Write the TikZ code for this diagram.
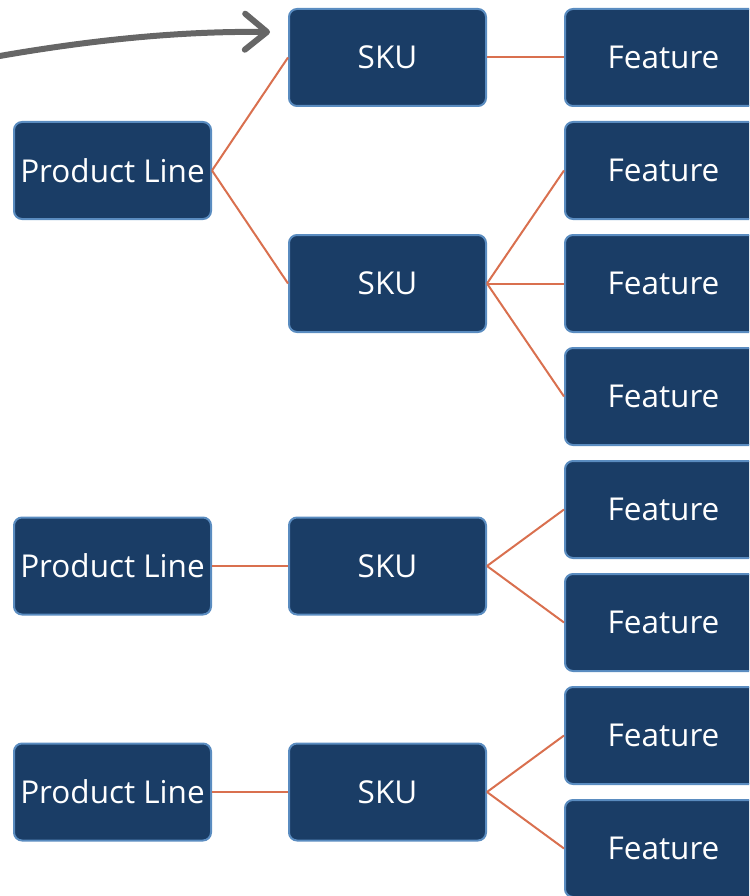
\documentclass[tikz,border=0pt]{standalone}
\usepackage{fontspec}
\setmainfont{Open Sans}
\usetikzlibrary{arrows.meta}
\definecolor{boxfill}{HTML}{1A3D66}
\definecolor{boxedge}{HTML}{5A8CC0}
\definecolor{linkcol}{HTML}{D9704F}
\definecolor{arrowgray}{HTML}{666666}
\tikzset{
  item/.style={draw=boxedge, line width=2pt, fill=boxfill, rounded corners=8pt,
    minimum width=197pt, minimum height=97pt, inner sep=0pt,
    text=white, font=\fontsize{31.5}{36}\selectfont},
  link/.style={draw=linkcol, line width=2pt},
  pointer/.style={draw=arrowgray, line width=6pt, line cap=round,
    -{Straight Barb[length=22pt,width=36pt,round]}}
}
\begin{document}
\begin{tikzpicture}[x=1pt, y=-1pt]
\useasboundingbox (0,0) rectangle (749,896);
\clip (0,0) rectangle (749,896);
% feature column
\foreach \i in {0,...,7} {
  \node[item] (f\i) at (663.5, 57.5+113*\i) {Feature};
}
% SKU column
\node[item] (s1) at (387.5, 57.5) {SKU};
\node[item] (s2) at (387.5, 283.5) {SKU};
\node[item] (s3) at (387.5, 566) {SKU};
\node[item] (s4) at (387.5, 792) {SKU};
% product lines
\node[item] (p1) at (112.5, 170.5) {Product Line};
\node[item] (p2) at (112.5, 566) {Product Line};
\node[item] (p3) at (112.5, 792) {Product Line};
% connectors
\draw[link] (p1.east) -- (s1.west);
\draw[link] (p1.east) -- (s2.west);
\draw[link] (p2.east) -- (s3.west);
\draw[link] (p3.east) -- (s4.west);
\draw[link] (s1.east) -- (f0.west);
\foreach \j in {1,2,3} \draw[link] (s2.east) -- (f\j.west);
\foreach \j in {4,5} \draw[link] (s3.east) -- (f\j.west);
\foreach \j in {6,7} \draw[link] (s4.east) -- (f\j.west);
% pointer towards the first SKU
\coordinate (from) at (-6, 57);
\coordinate (to) at (270, 32);
\draw[pointer] (from) .. controls (90, 40) and (180, 31) .. (to);
\end{tikzpicture}
\end{document}
